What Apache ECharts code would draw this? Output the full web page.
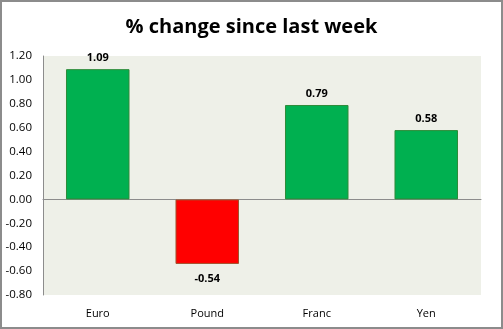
<!DOCTYPE html>
<html><head><meta charset="utf-8">
<script src="https://cdn.jsdelivr.net/npm/echarts@6/dist/echarts.min.js"></script>
<style>
html,body{margin:0;padding:0;background:#fff;}
#c{width:503px;height:329px;box-sizing:border-box;border:2px solid #8c8c8c;}
</style></head><body>
<div id="c"></div>
<script>
var categories = ['Euro', 'Pound', 'Franc', 'Yen'];
var values = [1.09, -0.54, 0.79, 0.58];
var yTicks = { min: -0.8, max: 1.2, interval: 0.2 };

var chart = echarts.init(document.getElementById('c'), null, {renderer: 'canvas'});
var font = 'Open Sans';
chart.setOption({
  animation: false,
  backgroundColor: '#fff',
  title: {
    text: '% change since last week',
    left: 'center', top: 10,
    textStyle: {fontFamily: font, fontWeight: 'bold', fontSize: 20, color: '#000'}
  },
  grid: {left: 41, right: 20, top: 54, bottom: 32, show: true, backgroundColor: '#eef0e8', borderWidth: 0},
  xAxis: {
    type: 'category', data: categories,
    axisLine: {onZero: true, lineStyle: {color: '#8c8c8c', width: 1}},
    axisTick: {show: false},
    axisLabel: {fontFamily: font, fontSize: 11, color: '#000', margin: 13, interval: 0},
    position: 'bottom'
  },
  yAxis: {
    type: 'value', min: yTicks.min, max: yTicks.max, interval: yTicks.interval,
    splitLine: {show: false},
    axisLine: {show: true, lineStyle: {color: '#8c8c8c'}},
    axisTick: {show: false},
    axisLabel: {fontFamily: font, fontSize: 11.5, color: '#000', margin: 11, align: 'right',
      formatter: function(v){ return v.toFixed(2); }}
  },
  series: [{
    type: 'bar', barWidth: '58%',
    data: values.map(function(v){
      return {value: v,
        label: {position: v < 0 ? 'bottom' : 'top', distance: v < 0 ? 9 : 6},
        itemStyle: v < 0 ? {color: '#ff0000', borderColor: '#a0522d', borderWidth: 1} : {color: '#00b050', borderColor: '#2e8b3a', borderWidth: 1}};
    }),
    label: {show: true, fontFamily: font, fontWeight: 'bold', fontSize: 11, color: '#000',
      formatter: function(p){ return p.value.toFixed(2); }}
  }]
});
</script>
</body></html>
